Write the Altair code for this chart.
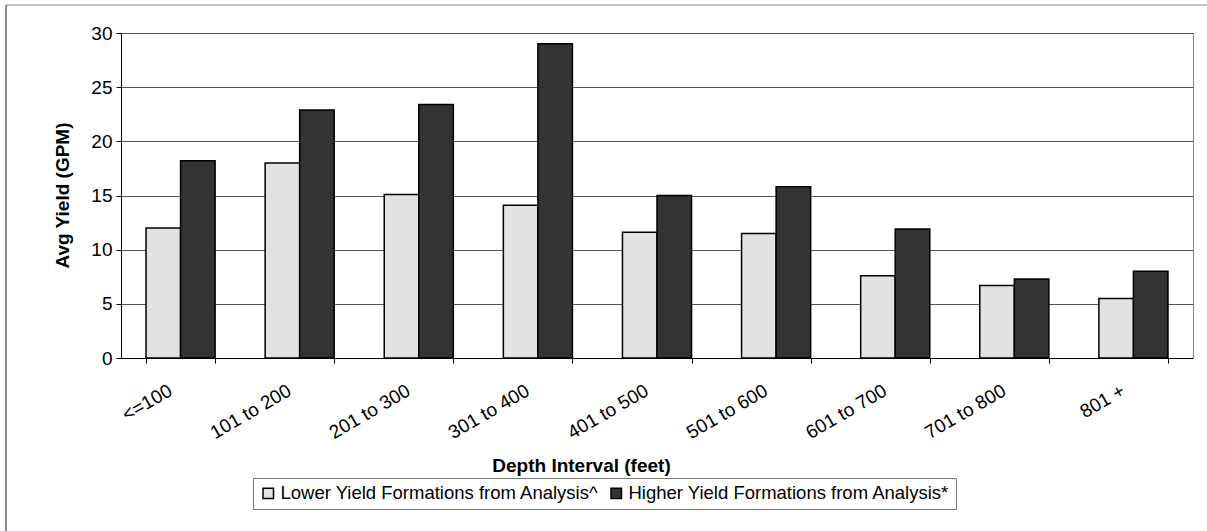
import altair as alt
import pandas as pd

# Average well yield by depth interval, two formation groups
categories = ["<=100", "101 to 200", "201 to 300", "301 to 400", "401 to 500",
              "501 to 600", "601 to 700", "701 to 800", "801 +"]
lower_yield = [12.0, 18.0, 15.1, 14.1, 11.6, 11.5, 7.6, 6.7, 5.5]
higher_yield = [18.2, 22.9, 23.4, 29.0, 15.0, 15.8, 11.9, 7.3, 8.0]
series_names = ["Lower Yield Formations from Analysis^",
                "Higher Yield Formations from Analysis*"]
y_ticks = [0, 5, 10, 15, 20, 25, 30]

rows = []
for cat, lo, hi in zip(categories, lower_yield, higher_yield):
    rows.append({"interval": cat, "series": series_names[0], "gpm": lo})
    rows.append({"interval": cat, "series": series_names[1], "gpm": hi})
df = pd.DataFrame(rows)

FONT = "Liberation Sans"
FS = 19
W, H = 1072, 325

bars = alt.Chart(df).mark_bar(stroke="black", strokeWidth=1.5).encode(
    x=alt.X("interval:N", sort=categories,
            scale=alt.Scale(paddingInner=0.42, paddingOuter=0.21),
            axis=alt.Axis(title="Depth Interval (feet)", labelAngle=-30,
                          labelAlign="right", labelBaseline="top",
                          labelPadding=18, labelOffset=-15,
                          tickBand="extent", tickSize=5, tickColor="black",
                          domainColor="black", grid=False,
                          titleX=460, titleY=107, titleBaseline="middle",
                          titleAlign="center")),
    xOffset=alt.XOffset("series:N", sort=series_names,
                        scale=alt.Scale(paddingInner=0, paddingOuter=0)),
    y=alt.Y("gpm:Q", scale=alt.Scale(domain=[0, 30], nice=False),
            axis=alt.Axis(title="Avg Yield (GPM)", values=y_ticks,
                          tickSize=5, tickColor="black", domainColor="black",
                          gridColor="#555555", gridWidth=1, labelPadding=4,
                          titleX=-59, titleY=162, titleBaseline="middle",
                          titleAlign="center")),
    fill=alt.Fill("series:N", sort=series_names,
                  scale=alt.Scale(domain=series_names,
                                  range=["#e2e2e2", "#333333"]),
                  legend=alt.Legend(title=None, orient="none",
                                    direction="horizontal",
                                    legendX=132, legendY=445,
                                    symbolType="square", symbolSize=110,
                                    symbolStrokeColor="black",
                                    symbolStrokeWidth=1.5,
                                    columnPadding=8, labelOffset=3,
                                    labelLimit=0,
                                    strokeColor="#777777", padding=6,
                                    fillColor="white")),
)

# Outer frame of the chart area (top and left edges)
frame = alt.Data(values=[{}])
top_edge = alt.Chart(frame).mark_rule(color="#888888", strokeWidth=1).encode(
    x=alt.value(-115), x2=alt.value(1086), y=alt.value(-28))
left_edge = alt.Chart(frame).mark_rule(color="#666666", strokeWidth=1.5).encode(
    x=alt.value(-115), y=alt.value(-28), y2=alt.value(498))

chart = alt.layer(bars, top_edge, left_edge).properties(
    width=W, height=H,
    autosize=alt.AutoSizeParams(type="none"),
    padding={"left": 121, "top": 33, "right": 14, "bottom": 173},
    background="white",
).configure_view(stroke="#888888", strokeWidth=1).configure_axis(
    labelFont=FONT, titleFont=FONT, labelFontSize=FS, titleFontSize=FS,
    titleFontWeight="bold", labelColor="black", titleColor="black",
).configure_legend(labelFont=FONT, labelFontSize=18.5, labelColor="black")

chart.save("out.html", embed_options={"renderer": "svg", "actions": False})
